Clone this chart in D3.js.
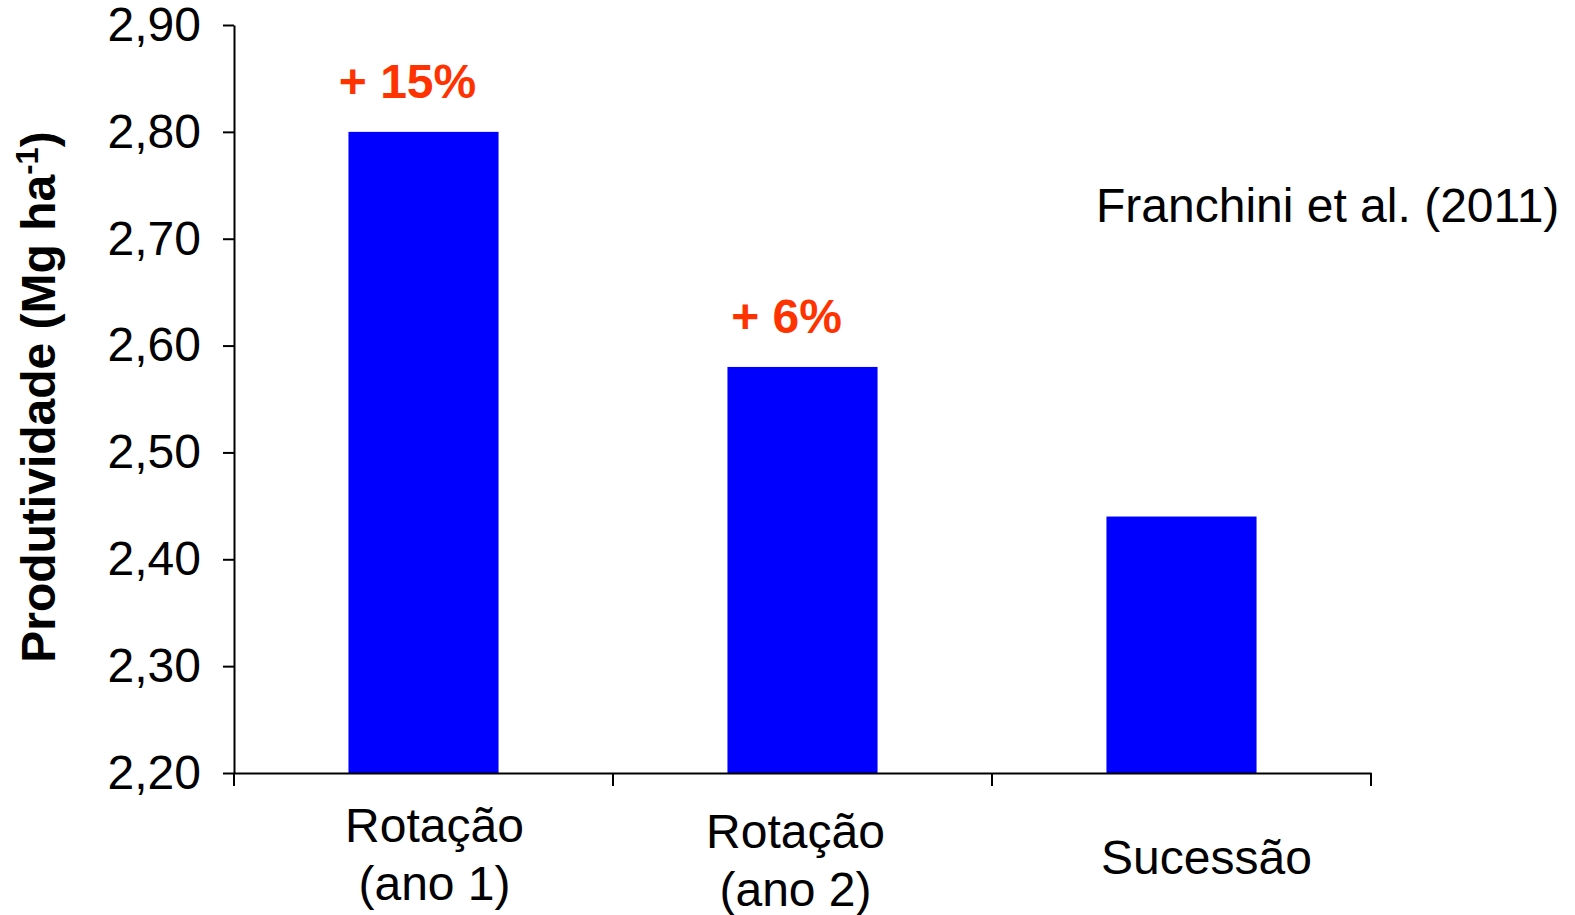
<!DOCTYPE html>
<html>
<head>
<meta charset="utf-8">
<script src="https://cdn.jsdelivr.net/npm/d3@7"></script>
<style>
  html, body { margin: 0; padding: 0; background: #fff; }
  svg { display: block; font-family: "Liberation Sans", Arial, sans-serif; }
</style>
</head>
<body>
<svg id="chart" width="1575" height="915"></svg>
<script>
// ---- data ----
const categories = ["Rotação\n(ano 1)", "Rotação\n(ano 2)", "Sucessão"];
const values = [2.80, 2.58, 2.44];
const annotations = ["+ 15%", "+ 6%", ""];
const yTicks = [2.20, 2.30, 2.40, 2.50, 2.60, 2.70, 2.80, 2.90];
const yTickLabels = ["2,20", "2,30", "2,40", "2,50", "2,60", "2,70", "2,80", "2,90"];
const yTitle = "Produtividade (Mg ha";
const yTitleSup = "-1";
const sourceNote = "Franchini et al. (2011)";

(function () {
// ---- layout ----
const pLeft = 234, pRight = 1371, pTop = 25, pBottom = 773;
const labelDx = [11, -7, 25];
const labelBaseline = [[69, 127], [75, 133], [101]];

const svg = d3.select("#chart");

const x = d3.scaleBand().domain(categories).range([pLeft, pRight])
  .paddingInner(0.604).paddingOuter(0.302);
const y = d3.scaleLinear().domain([2.2, 2.9]).range([pBottom, pTop]);

// bars
svg.append("g").selectAll("rect").data(values).join("rect")
  .attr("x", (d, i) => x(categories[i]))
  .attr("width", x.bandwidth())
  .attr("y", d => y(d))
  .attr("height", d => y(2.2) - y(d))
  .attr("fill", "#0000FF");

// y axis
const yAxis = svg.append("g").attr("transform", `translate(${pLeft},0)`)
  .call(d3.axisLeft(y).tickValues(yTicks).tickSize(11).tickSizeOuter(0)
    .tickFormat((d, i) => yTickLabels[i]).tickPadding(22));
yAxis.selectAll("path, line").attr("stroke", "#000").attr("stroke-width", 2);
yAxis.selectAll("text").attr("font-size", 48).attr("fill", "#000")
  .attr("font-family", "Liberation Sans, Arial, sans-serif");

// x axis
const xAxis = svg.append("g").attr("transform", `translate(0,${pBottom})`)
  .call(d3.axisBottom(x).tickSize(0).tickSizeOuter(0).tickFormat(""));
xAxis.selectAll("path").attr("stroke", "#000").attr("stroke-width", 2);
const gap = (x.step() - x.bandwidth()) / 2;
const boundaries = categories.map(c => x(c) - gap).concat([x.range()[1]]);
xAxis.selectAll("line.bnd").data(boundaries).join("line")
  .attr("class", "bnd")
  .attr("x1", d => d).attr("x2", d => d)
  .attr("y1", 0).attr("y2", 13)
  .attr("stroke", "#000").attr("stroke-width", 2);

// category labels
categories.forEach((c, i) => {
  const lines = c.split("\n");
  const t = svg.append("text")
    .attr("text-anchor", "middle")
    .attr("font-size", 48)
    .attr("fill", "#000");
  lines.forEach((ln, j) => {
    t.append("tspan")
      .attr("x", x(c) + x.bandwidth() / 2 + labelDx[i])
      .attr("y", pBottom + labelBaseline[i][j])
      .text(ln);
  });
});

// annotations
svg.append("g").selectAll("text").data(values).join("text")
  .attr("x", (d, i) => x(categories[i]) + x.bandwidth() / 2 - 16)
  .attr("y", d => y(d) - 34)
  .attr("text-anchor", "middle")
  .attr("font-size", 48)
  .attr("font-weight", "bold")
  .attr("fill", "#FF3300")
  .text((d, i) => annotations[i]);

// source note
svg.append("text")
  .attr("x", 1096).attr("y", 222)
  .attr("font-size", 48)
  .attr("fill", "#000")
  .text(sourceNote);

// y title
const yt = svg.append("text")
  .attr("transform", "translate(55,397) rotate(-90)")
  .attr("text-anchor", "middle")
  .attr("font-size", 48)
  .attr("font-weight", "bold")
  .attr("fill", "#000");
yt.append("tspan").text(yTitle);
yt.append("tspan").attr("dy", -17).attr("font-size", 31).text(yTitleSup);
yt.append("tspan").attr("dy", 17).text(")");
})();
</script>
</body>
</html>
